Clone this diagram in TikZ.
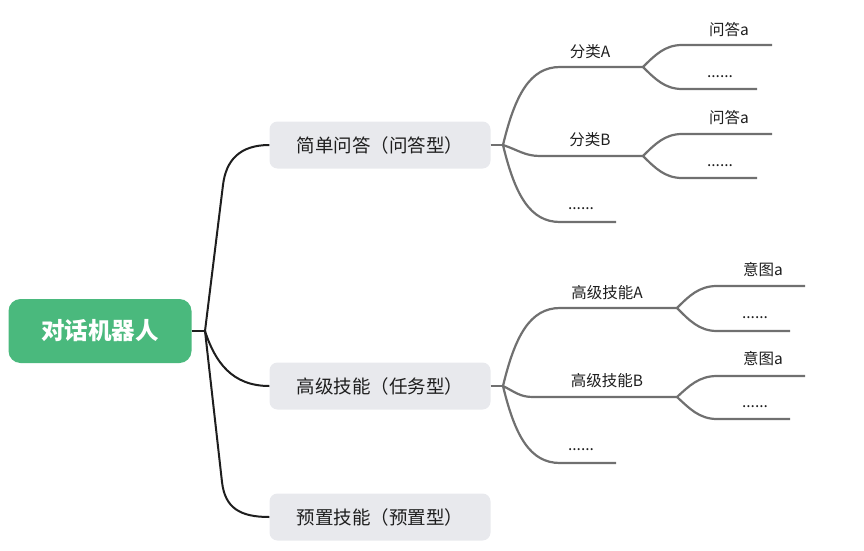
\documentclass[tikz,border=0pt]{standalone}
\usepackage{fontspec}
\setmainfont{Noto Sans CJK SC}
\usetikzlibrary{positioning}
\definecolor{RootGreen}{RGB}{74,185,125}
\definecolor{BoxGray}{RGB}{232,233,237}
\definecolor{LineGray}{RGB}{112,112,112}
\definecolor{LineDark}{RGB}{30,30,30}
\definecolor{TextDark}{RGB}{30,30,30}
\tikzset{
  % nodi della mappa
  root/.style={rounded corners=12pt,fill=RootGreen,text=white,minimum width=183pt,minimum height=64pt,font=\fontsize{23.5}{26}\selectfont\bfseries},
  topic/.style={rounded corners=8pt,fill=BoxGray,text=TextDark,minimum width=221pt,minimum height=47pt,font=\fontsize{18.5}{20}\selectfont},
  leaftext/.style={inner sep=0pt,text=TextDark,font=\fontsize{15.5}{17}\selectfont},
  % rami
  trunk/.style={line width=2pt,LineDark},
  twig/.style={line width=2.2pt,LineGray}
}

\begin{document}
\begin{tikzpicture}[x=1pt,y=-1pt]
  \useasboundingbox (0,0) rectangle (864,551);

  \node[root] (robot) at (100,331) {对话机器人};
  \node[topic] (qa) at (380,145) {简单问答（问答型）};
  \node[topic] (skill) at (380,386) {高级技能（任务型）};
  \node[topic] (preset) at (380,517) {预置技能（预置型）};

  % tronco
  \coordinate (j0) at (205,331);
  \draw[trunk] (robot.east) -- (j0);
  \draw[trunk] (j0) -- (223,185) .. controls (226,160) and (240,145) .. (qa.west);
  \draw[trunk] (j0) .. controls (215,362) and (232,386) .. (skill.west);
  \draw[trunk] (j0) -- (222,482) .. controls (225,508) and (240,517) .. (preset.west);

  % problemi semplici
  \coordinate (j1) at (503,145);
  \coordinate (catA) at (643,67);
  \coordinate (catB) at (643,156);
  \draw[twig] (qa.east) -- (j1);
  \draw[twig] (j1) .. controls (515,95) and (530,67) .. (560,67) -- (catA);
  \draw[twig] (j1) .. controls (518,150) and (525,156) .. (540,156) -- (catB);
  \draw[twig] (j1) .. controls (515,195) and (530,222) .. (560,222) -- (616,222);
  \node[leaftext] (catAText) at (590,52) {分类A};
  \node[leaftext] (catBText) at (590,140) {分类B};
  \node[leaftext] (qaMore) at (581,209) {......};

  \draw[twig] (catA) .. controls (655,55) and (665,45) .. (682,45) -- (772,45);
  \draw[twig] (catA) .. controls (655,79) and (665,89) .. (682,89) -- (757,89);
  \node[leaftext] (qaA1) at (729,30) {问答a};
  \node[leaftext] (qaA2) at (720,77) {......};

  \draw[twig] (catB) .. controls (655,144) and (665,134) .. (682,134) -- (772,134);
  \draw[twig] (catB) .. controls (655,168) and (665,178) .. (682,178) -- (757,178);
  \node[leaftext] (qaB1) at (729,118) {问答a};
  \node[leaftext] (qaB2) at (720,166) {......};

  % abilita avanzate
  \coordinate (j2) at (503,386);
  \coordinate (skA) at (677,308);
  \coordinate (skB) at (677,397);
  \draw[twig] (skill.east) -- (j2);
  \draw[twig] (j2) .. controls (515,336) and (530,308) .. (560,308) -- (skA);
  \draw[twig] (j2) .. controls (515,392) and (520,397) .. (533,397) -- (skB);
  \draw[twig] (j2) .. controls (515,436) and (530,463) .. (560,463) -- (616,463);
  \node[leaftext] (skAText) at (607,293) {高级技能A};
  \node[leaftext] (skBText) at (607,381) {高级技能B};
  \node[leaftext] (skMore) at (581,450) {......};

  \draw[twig] (skA) .. controls (689,296) and (699,286) .. (717,286) -- (805,286);
  \draw[twig] (skA) .. controls (689,320) and (699,331) .. (717,331) -- (790,331);
  \node[leaftext] (intA1) at (763,270) {意图a};
  \node[leaftext] (intA2) at (755,318) {......};

  \draw[twig] (skB) .. controls (689,386) and (699,376) .. (717,376) -- (805,376);
  \draw[twig] (skB) .. controls (689,408) and (699,419) .. (717,419) -- (790,419);
  \node[leaftext] (intB1) at (763,359) {意图a};
  \node[leaftext] (intB2) at (755,407) {......};
\end{tikzpicture}
\end{document}
